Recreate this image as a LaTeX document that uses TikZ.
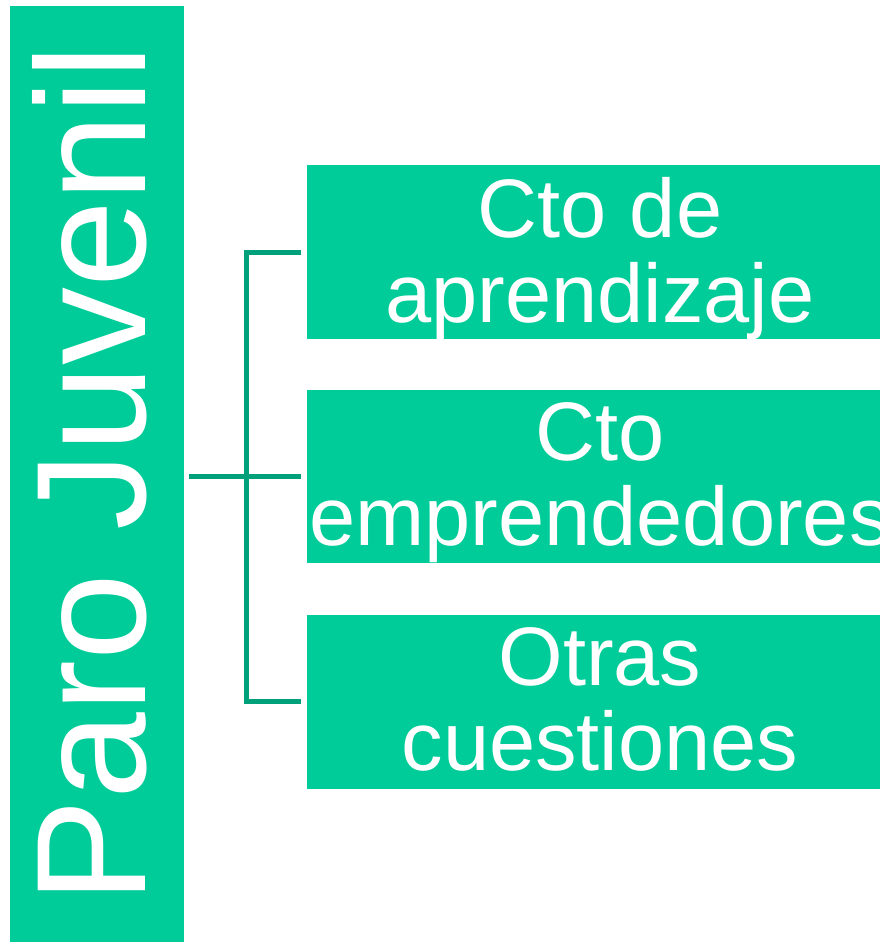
\documentclass[tikz,border=0pt]{standalone}
\usepackage{fontspec}
\setmainfont{Liberation Sans}
\definecolor{boxgreen}{RGB}{0,204,153}
\definecolor{linegreen}{RGB}{0,160,122}
\begin{document}
\begin{tikzpicture}[x=1pt,y=-1pt,
  box/.style={fill=boxgreen, draw=none, inner sep=0pt, text=white},
  item/.style={box, minimum width=586pt, minimum height=174pt, align=center,
    font=\fontsize{83}{85}\selectfont, text depth=5pt},
  conn/.style={draw=linegreen, line width=5pt}]
\useasboundingbox (0,0) rectangle (880,943);
\clip (0,0) rectangle (880,943);
\node[box, rotate=90, minimum width=936pt, minimum height=174pt,
  font=\fontsize{156}{160}\selectfont, text depth=17pt] (pj) at (97,474) {Paro Juvenil};
\node[item] (b1) at (600,252) {Cto de\\aprendizaje};
\node[item, minimum height=173pt] (b2) at (600,476.5) {Cto\\emprendedores};
\node[item] (b3) at (600,701.5) {Otras\\cuestiones};
\coordinate (j) at (246,476.5);
\draw[conn] ([xshift=5pt]pj.south |- b2.west) -- ([xshift=-5.5pt]b2.west);
\draw[conn] ([xshift=-5.5pt]b1.west) -| (j) |- ([xshift=-5.5pt]b3.west);
\end{tikzpicture}
\end{document}
